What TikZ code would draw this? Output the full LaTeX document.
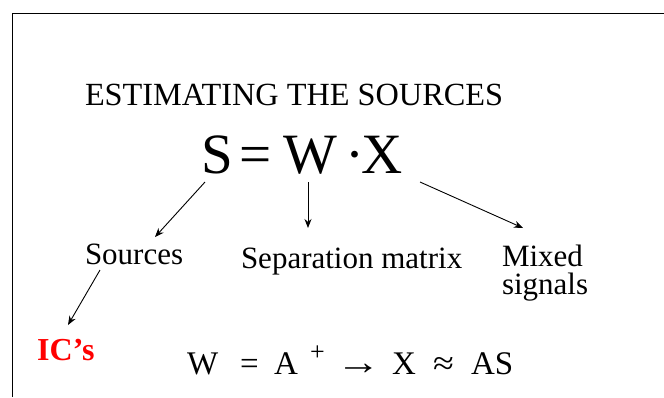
\documentclass[tikz,border=0pt]{standalone}
\usepackage{fontspec}
\setmainfont{Liberation Serif}
\usetikzlibrary{arrows.meta}
\begin{document}
\begin{tikzpicture}[x=1pt,y=-1pt,
  txt/.style={anchor=base west,inner sep=0pt,outer sep=0pt,font=\fontsize{31}{27}\selectfont},
  big/.style={anchor=base west,inner sep=0pt,outer sep=0pt,font=\fontsize{57}{60}\selectfont},
  eq/.style={anchor=base west,inner sep=0pt,outer sep=0pt,font=\fontsize{33}{36}\selectfont},
  conn/.style={draw=black,line width=0.9pt,-{Stealth[length=9pt,width=7pt]}},
  frame/.style={draw=black,line width=1.4pt}]
\useasboundingbox (0,0) rectangle (664,397);
\fill[white] (0,0) rectangle (664,397);
\draw[frame] (12.3,397) -- (12.3,13.3) -- (664,13.3);

\node[txt,font=\fontsize{32.3}{27}\selectfont] (title) at (85,105) {ESTIMATING THE SOURCES};

\node[big] (S) at (201,173) {S};
\node[big] (eqs) at (239.5,173) {=};
\node[big] (W) at (283,173) {W};
\node[big] (dot) at (345,173) {·};
\node[big] (X) at (361,173) {X};

\node[txt] (src) at (85,264) {Sources};
\node[txt] (sep) at (241,268) {Separation matrix};
\node[txt] (mix) at (502,266) {Mixed};
\node[txt] (sig) at (502,294) {signals};
\node[anchor=base west,inner sep=0pt,text=red,font=\fontsize{32}{34}\selectfont\bfseries] (ics) at (37,360) {IC’s};

\coordinate (a1s) at (205,182); \coordinate (a1e) at (155,237);
\coordinate (a2s) at (308,182); \coordinate (a2e) at (308,228);
\coordinate (a3s) at (420,182); \coordinate (a3e) at (523,228);
\coordinate (a4s) at (100,270); \coordinate (a4e) at (68,325);
\draw[conn] (a1s) -- (a1e);
\draw[conn] (a2s) -- (a2e);
\draw[conn] (a3s) -- (a3e);
\draw[conn] (a4s) -- (a4e);

\node[eq] (bW) at (187,374) {W};
\node[eq] (bEq) at (240,374) {=};
\node[eq] (bA) at (274,374) {A};
\node[anchor=base west,inner sep=0pt,font=\fontsize{26}{28}\selectfont] (bP) at (310,360) {+};
\node[eq] (bArr) at (336,374) {\scalebox{1.35}[1.1]{→}};
\node[eq] (bX) at (392,374) {X};
\node[eq] (bApp) at (433,374) {\scalebox{1.15}[1]{≈}};
\node[eq] (bAS) at (471,374) {AS};
\end{tikzpicture}
\end{document}
